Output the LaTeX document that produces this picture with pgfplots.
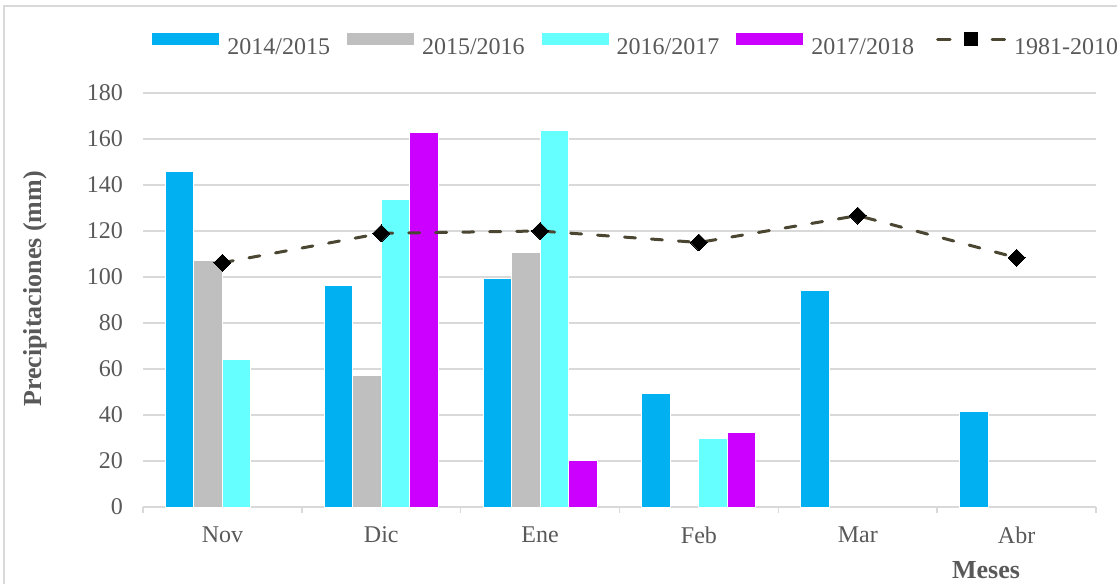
\documentclass[border=0pt]{standalone}
\usepackage{pgfplots}
\pgfplotsset{compat=1.18}
\usepackage{fontspec}
\setmainfont{Liberation Serif}
\definecolor{cA}{HTML}{00B0F0}
\definecolor{cB}{HTML}{BFBFBF}
\definecolor{cC}{HTML}{66FFFF}
\definecolor{cD}{HTML}{CC00FF}
\definecolor{lineclr}{HTML}{4A4632}
\definecolor{txt}{HTML}{595959}
\definecolor{gridgray}{HTML}{D9D9D9}
\begin{document}
\begin{tikzpicture}
\path[use as bounding box] (-71.5pt,253.5pt) rectangle (487pt,-38pt);
\clip (-71.5pt,253.5pt) rectangle (487pt,-38pt);
\draw[gridgray, line width=1pt] (-69.25pt,-60pt) -- (-69.25pt,250.5pt) -- (520pt,250.5pt);
\begin{axis}[
  at={(0pt,0pt)}, anchor=south west,
  scale only axis, width=476.5pt, height=207pt,
  xmin=-0.5, xmax=5.5, ymin=0, ymax=180,
  separate axis lines,
  axis x line*=bottom, axis y line*=left,
  y axis line style={draw=none},
  x axis line style={draw=gridgray, line width=0.75pt},
  xtick={0,...,5},
  xticklabels={Nov,Dic,Ene,Feb,Mar,Abr},
  minor xtick={-0.5,0.5,...,5.5},
  major tick length=0pt, minor tick length=3pt,
  tick align=outside,
  minor tick style={gridgray, line width=0.75pt},
  ytick={0,20,...,180},
  ymajorgrids,
  major grid style={gridgray, line width=0.75pt},
  /pgf/number format/assume math mode=true,
  tick label style={font=\fontsize{12}{14}\selectfont, text=txt},
  xticklabel style={yshift=-6.5pt},
  yticklabel style={xshift=-6.5pt},
  ylabel={Precipitaciones (mm)},
  ylabel style={at={(axis description cs:-0.1133,0.5266)}, anchor=center, font=\fontsize{13}{15}\selectfont\bfseries, text=txt},
  xlabel={Meses},
  xlabel style={at={(axis description cs:0.8846,-0.1522)}, anchor=center, font=\fontsize{13}{15}\selectfont\bfseries, text=txt},
  ybar, bar width=14.25pt,
  legend columns=5,
  legend style={at={(axis description cs:0.0094,1.1147)}, anchor=west, draw=none, fill=none, inner sep=0pt,
    font=\fontsize{12}{14}\selectfont, text=txt,
    nodes={inner xsep=0pt, inner ysep=1pt},
    /tikz/every odd column/.append style={column sep=4pt},
    /tikz/every even column/.append style={column sep=8.5pt}},
]
\addplot[fill=cA, draw=white, line width=0.5pt, bar shift=-21.375pt,
  legend image code/.code={\fill[cA] (0pt,1.5pt) rectangle (33pt,7pt);}]
  coordinates {(0,146) (1,96.4) (2,99.3) (3,49.4) (4,94.3) (5,41.4)};
\addlegendentry{2014/2015}
\addplot[fill=cB, draw=white, line width=0.5pt, bar shift=-7.125pt,
  legend image code/.code={\fill[cB] (0pt,1.5pt) rectangle (33pt,7pt);}]
  coordinates {(0,107.2) (1,57) (2,110.7)};
\addlegendentry{2015/2016}
\addplot[fill=cC, draw=white, line width=0.5pt, bar shift=7.125pt,
  legend image code/.code={\fill[cC] (0pt,1.5pt) rectangle (33pt,7pt);}]
  coordinates {(0,64.3) (1,133.5) (2,163.5) (3,29.6)};
\addlegendentry{2016/2017}
\addplot[fill=cD, draw=white, line width=0.5pt, bar shift=21.375pt,
  legend image code/.code={\fill[cD] (0pt,1.5pt) rectangle (33pt,7pt);}]
  coordinates {(1,162.9) (2,20.4) (3,32.2)};
\addlegendentry{2017/2018}
\addplot[sharp plot, lineclr, line width=1.5pt, dash pattern=on 5.5pt off 8pt, line cap=round,
  mark=square*, mark size=3pt, mark options={rotate=45, fill=black, draw=black, solid, line width=0pt},
  legend image code/.code={
    \path[draw=none, fill=none] (0pt,4.25pt) -- (37.5pt,4.25pt);
    \draw[lineclr, solid, line width=1.5pt, line cap=round] (3.25pt,4.25pt) -- (9.5pt,4.25pt);
    \draw[lineclr, solid, line width=1.5pt, line cap=round] (30.5pt,4.25pt) -- (36.75pt,4.25pt);
    \fill[black, draw=none] (16.25pt,0.75pt) rectangle (23.25pt,7.75pt);}]
  coordinates {(0,106.2) (1,119) (2,120) (3,115) (4,126.7) (5,108.4)};
\addlegendentry{1981-2010}
\end{axis}
\end{tikzpicture}
\end{document}
